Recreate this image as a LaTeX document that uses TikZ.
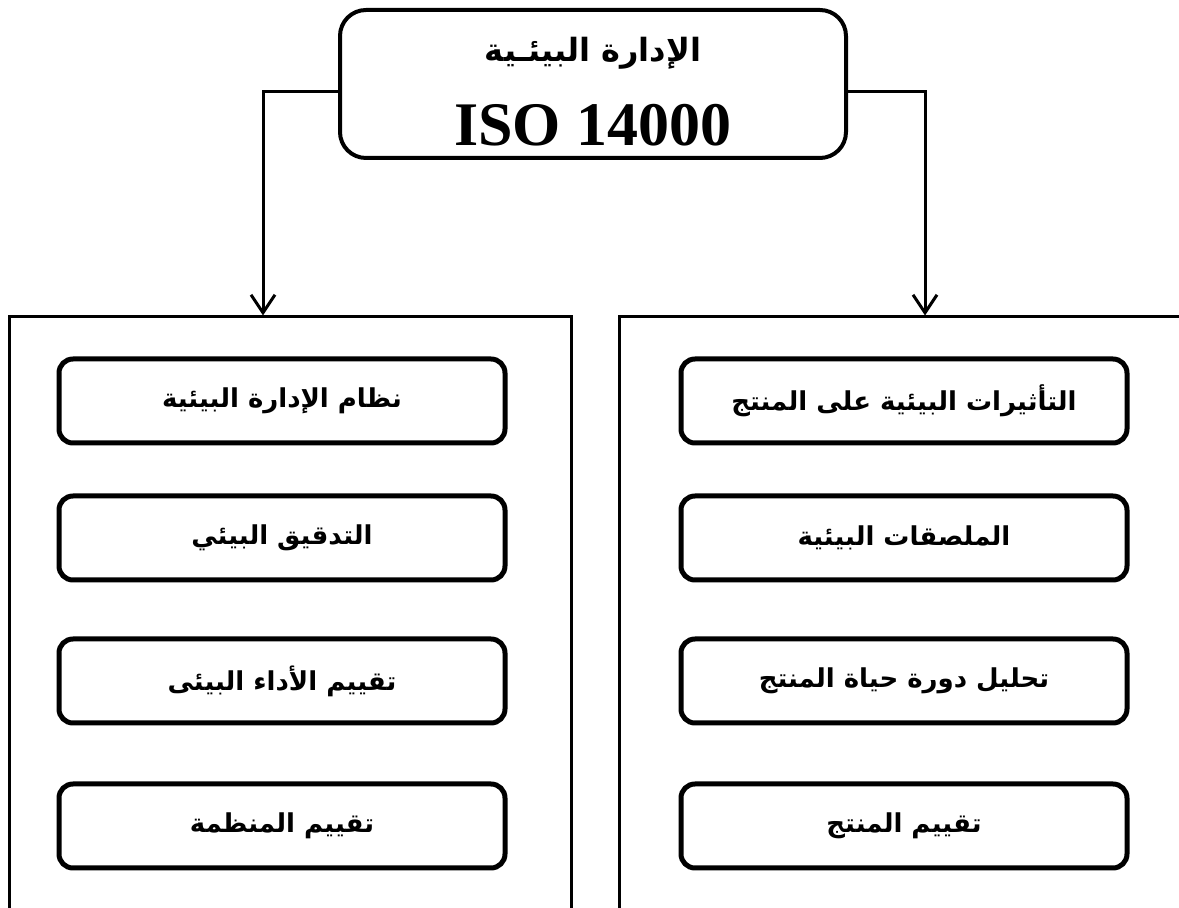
\documentclass[tikz,border=0pt]{standalone}
\usepackage{fontspec}
\setmainfont{Liberation Serif}
\newfontfamily\arabicfont[Script=Arabic]{DejaVu Sans}
\TeXXeTstate=1
\usepackage{tikz}
\usetikzlibrary{arrows.meta}
\usetikzlibrary{positioning}
\tikzstyle{item}=[rectangle,rounded corners=14pt,draw=black,line width=5pt,minimum width=446pt,minimum height=84pt,inner sep=0pt,font=\arabicfont\bfseries\fontsize{26}{30}\selectfont]
\tikzstyle{panel}=[rectangle,draw=black,line width=3pt,minimum width=562pt,minimum height=595pt,inner sep=0pt]
\tikzstyle{head}=[rectangle,rounded corners=26pt,draw=black,line width=4pt,minimum width=506pt,minimum height=148pt,inner sep=0pt]
\tikzstyle{arrow}=[-{Straight Barb[length=18pt,width=24pt,line width=3pt]},line width=3pt]
\tikzset{every picture/.style={
    x=1pt,y=1pt
  }
}

\begin{document}
\begin{tikzpicture}
        \useasboundingbox (0,0) rectangle (1179,908);
        \node[head] at (593,824) (iso) {};
        \node[font=\arabicfont\bfseries\fontsize{32}{38}\selectfont] at (593,855) (isotitle) {\beginR الإدارة البيئـية\endR};
        \node[font=\bfseries\fontsize{62}{68}\selectfont] at (593,783) (isonum) {ISO 14000};
        \node[panel] at (290.5,293.5) (lpanel) {};
        \node[panel] at (900.5,293.5) (rpanel) {};
        % left column
        \node[item] at (282,507) (l1) {\beginR نظام الإدارة البيئية\endR};
        \node[item] at (282,370) (l2) {\beginR التدقيق البيئي\endR};
        \node[item] at (282,227) (l3) {\beginR تقييم الأداء البيئى\endR};
        \node[item] at (282,82) (l4) {\beginR تقييم المنظمة\endR};
        % right column
        \node[item] at (904,507) (r1) {\beginR التأثيرات البيئية على المنتج\endR};
        \node[item] at (904,370) (r2) {\beginR الملصقات البيئية\endR};
        \node[item] at (904,227) (r3) {\beginR تحليل دورة حياة المنتج\endR};
        \node[item] at (904,82) (r4) {\beginR تقييم المنتج\endR};
        \coordinate (lturn) at (263,816);
        \coordinate (rturn) at (925,816);
        \draw[arrow] (iso.west |- lturn) -- (lturn) -- (lturn |- lpanel.north);
        \draw[arrow] (iso.east |- rturn) -- (rturn) -- (rturn |- rpanel.north);
      \end{tikzpicture}
\end{document}
